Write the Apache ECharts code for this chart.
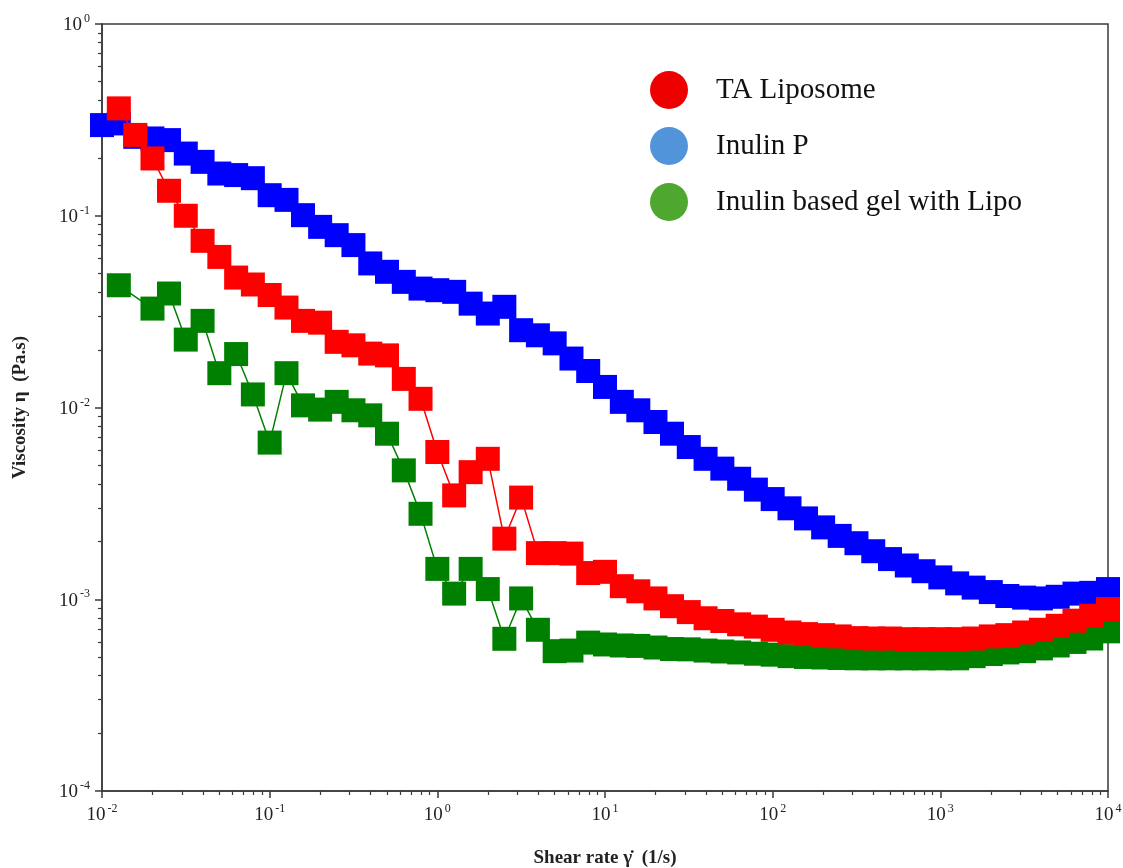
<!DOCTYPE html>
<html>
<head>
<meta charset="utf-8">
<script src="https://cdn.jsdelivr.net/npm/echarts@6/dist/echarts.min.js"></script>
<style>
    html, body { margin: 0; padding: 0; background: #fff; }
    #chart { width: 1123px; height: 868px; }
</style>
</head>
<body>
<div id="chart"></div>
<script>
// shear rate (1/s), 10 points per decade
const shearRate = [
    0.01, 0.0126, 0.0158, 0.02, 0.0251, 0.0316, 0.0398, 0.0501, 0.0631, 0.0794,
    0.1, 0.126, 0.158, 0.2, 0.251, 0.316, 0.398, 0.501, 0.631, 0.794,
    1, 1.26, 1.58, 2, 2.51, 3.16, 3.98, 5.01, 6.31, 7.94,
    10, 12.6, 15.8, 20, 25.1, 31.6, 39.8, 50.1, 63.1, 79.4,
    100, 126, 158, 200, 251, 316, 398, 501, 631, 794,
    1000, 1260, 1580, 2000, 2510, 3160, 3980, 5010, 6310, 7940,
    10000
];

// viscosity (Pa.s)
const taLiposome = [
    null, 0.363, 0.264, 0.199, 0.135, 0.100, 0.074, 0.061, 0.0476, 0.0438,
    0.0386, 0.0332, 0.0283, 0.0277, 0.022, 0.0211, 0.0191, 0.0187, 0.0141, 0.0111,
    0.00586, 0.00348, 0.0046, 0.0054, 0.00207, 0.00339, 0.00174, 0.00174, 0.00173, 0.00137,
    0.00139, 0.00117, 0.0011, 0.00101, 0.00092, 0.000857, 0.000796, 0.00077, 0.00074, 0.00072,
    0.000693, 0.000671, 0.000658, 0.00065, 0.00064, 0.000627, 0.000624, 0.000624, 0.000619, 0.000619,
    0.000619, 0.000619, 0.000624, 0.00064, 0.00065, 0.000671, 0.000693, 0.000727, 0.000773, 0.00082,
    0.000888
];

const inulinP = [
    0.297, 0.303, 0.258, 0.253, 0.248, 0.211, 0.191, 0.166, 0.163, 0.157,
    0.128, 0.121, 0.1007, 0.0875, 0.0792, 0.0703, 0.0564, 0.051, 0.0452, 0.0417,
    0.0409, 0.0401, 0.0348, 0.0309, 0.0335, 0.0253, 0.0238, 0.0216, 0.018, 0.0155,
    0.0128, 0.0107, 0.00967, 0.0084, 0.0073, 0.00622, 0.0054, 0.0048, 0.00425, 0.00373,
    0.00333, 0.00298, 0.00264, 0.00237, 0.00214, 0.00196, 0.00178, 0.00162, 0.0015, 0.0014,
    0.0013, 0.00121, 0.00115, 0.00109, 0.00104, 0.00102, 0.00101, 0.00103, 0.00107, 0.00108,
    0.00113
];

const inulinGel = [
    null, 0.0434, null, 0.0328, 0.0393, 0.0226, 0.0283, 0.0151, 0.019, 0.0117,
    0.00656, 0.0151, 0.01026, 0.00975, 0.0107, 0.00967, 0.0091, 0.0073, 0.0047, 0.00279,
    0.00144, 0.00107, 0.00144, 0.00113, 0.000622, 0.00101, 0.000693, 0.000536, 0.00054, 0.000594,
    0.000581, 0.000574, 0.000571, 0.00056, 0.00055, 0.000548, 0.00054, 0.000534, 0.000528, 0.00052,
    0.000514, 0.000505, 0.0005, 0.000497, 0.000494, 0.000492, 0.000492, 0.000492, 0.000492, 0.000492,
    0.000492, 0.000492, 0.000505, 0.000518, 0.000528, 0.000536, 0.000554, 0.000574, 0.000599, 0.000624,
    0.00068
];

const seriesNames = ['TA Liposome', 'Inulin P', 'Inulin based gel with Lipo'];
const legendColors = ['#EE0000', '#5294D9', '#4EA72E'];

// decades of the log axes (exponents)
const xDecades = [-2, -1, 0, 1, 2, 3, 4];
const yDecades = [-4, -3, -2, -1, 0];

const minorMultipliers = [2, 3, 4, 5, 6, 7, 8, 9];
const minorPositions = (decades) => {
    const out = [];
    decades.slice(0, -1).forEach(d => {
        minorMultipliers.forEach(m => out.push(d + Math.log10(m)));
    });
    return out;
};

const FONT = '"Times New Roman", "Liberation Serif", serif';
const AXIS_COLOR = '#3a3a3a';

const pairs = (values) => shearRate.map((x, i) => [x, values[i]]);

const powerLabel = (value) => {
    const e = Math.round(Math.log10(value));
    return '{b|10}{s|' + e + '}';
};

const labelRich = {
    b: { fontFamily: FONT, fontSize: 19, color: '#222', lineHeight: 22, verticalAlign: 'bottom' },
    s: { fontFamily: FONT, fontSize: 12, color: '#222', lineHeight: 22, verticalAlign: 'top', padding: [0, 0, 0, 2] }
};

const chart = echarts.init(document.getElementById('chart'));

const mainAxis = (min, max) => ({
    type: 'log',
    logBase: 10,
    min: min,
    max: max,
    interval: 1,
    axisLine: { show: true, onZero: false, lineStyle: { color: AXIS_COLOR, width: 1.5 } },
    axisTick: { show: true, inside: false, length: 7, lineStyle: { color: AXIS_COLOR, width: 1.5 } },
    axisLabel: { formatter: powerLabel, rich: labelRich, margin: 12 },
    splitLine: { show: false },
    minorTick: { show: false }
});

const minorAxis = (decades, position) => ({
    type: 'value',
    position: position,
    min: decades[0],
    max: decades[decades.length - 1],
    axisLine: { show: false, onZero: false },
    axisLabel: { show: false },
    splitLine: { show: false },
    axisTick: {
        show: true,
        length: 4,
        customValues: minorPositions(decades),
        lineStyle: { color: AXIS_COLOR, width: 1.2 }
    }
});

const lineSeries = (name, values, color, z) => ({
    name: name,
    type: 'line',
    xAxisIndex: 0,
    yAxisIndex: 0,
    data: pairs(values),
    connectNulls: true,
    symbol: 'rect',
    symbolSize: 24,
    z: z,
    lineStyle: { color: color, width: 1.5 },
    itemStyle: { color: color },
    emphasis: { disabled: true },
    animation: false
});

chart.setOption({
    backgroundColor: '#fff',
    grid: {
        left: 102,
        right: 15,
        top: 24,
        bottom: 77,
        outerBoundsMode: 'none',
        containLabel: false,
        show: true,
        borderColor: AXIS_COLOR,
        borderWidth: 1.5
    },
    legend: {
        orient: 'vertical',
        left: 645,
        top: 66,
        itemWidth: 44,
        itemHeight: 38,
        itemGap: 18,
        icon: 'circle',
        textStyle: {
            fontFamily: FONT,
            fontSize: 29,
            color: '#111',
            padding: [0, 0, 0, 20]
        },
        data: seriesNames.map((n, i) => ({ name: n, itemStyle: { color: legendColors[i] } }))
    },
    xAxis: [
        Object.assign(mainAxis(0.01, 10000), {
            position: 'bottom',
            name: 'Shear rate γ\u0307  (1/s)',
            nameLocation: 'middle',
            nameGap: 58,
            nameTextStyle: { fontFamily: FONT, fontSize: 19, fontWeight: 'bold', color: '#222' }
        }),
        minorAxis(xDecades, 'bottom')
    ],
    yAxis: [
        Object.assign(mainAxis(0.0001, 1), {
            position: 'left',
            name: 'Viscosity η  (Pa.s)',
            nameLocation: 'middle',
            nameGap: 72,
            nameTextStyle: { fontFamily: FONT, fontSize: 19, fontWeight: 'bold', color: '#222' }
        }),
        minorAxis(yDecades, 'left')
    ],
    series: [
        lineSeries(seriesNames[0], taLiposome, '#FF0000', 5),
        lineSeries(seriesNames[1], inulinP, '#0000FF', 3),
        lineSeries(seriesNames[2], inulinGel, '#008000', 4)
    ]
});
</script>
</body>
</html>
